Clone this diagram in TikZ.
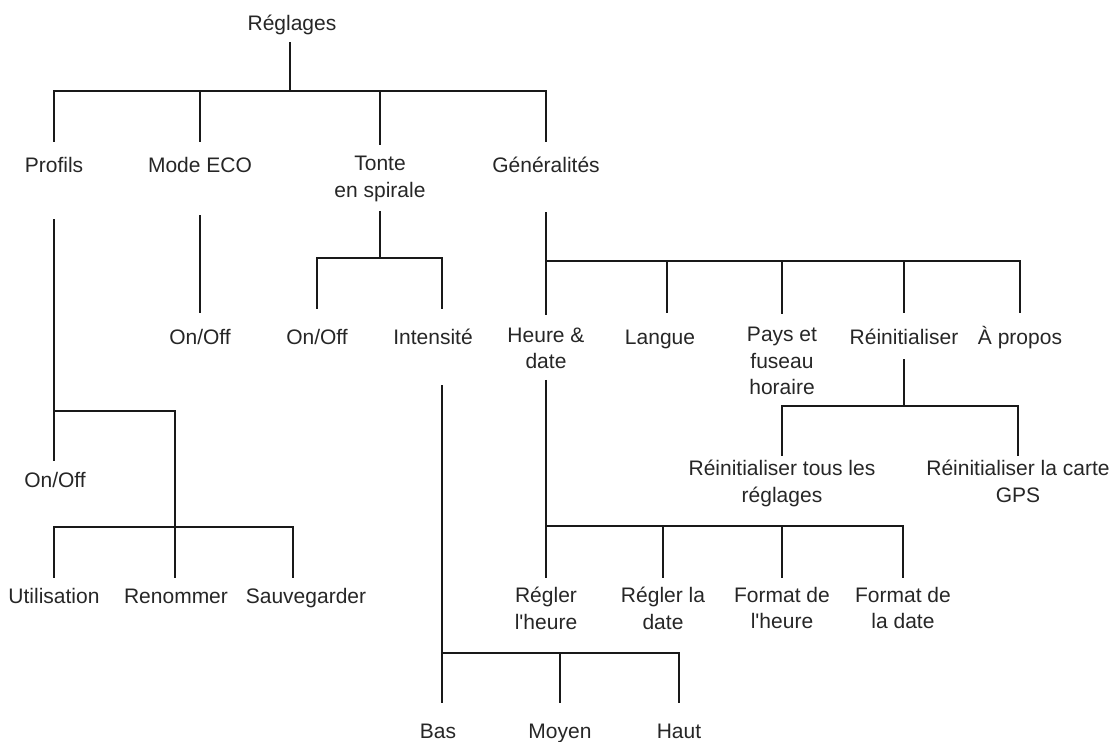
\documentclass[tikz,border=0pt]{standalone}
\usepackage{fontspec}
\setmainfont{Liberation Sans}[Ligatures=TeXOff]
\begin{document}
\begin{tikzpicture}[x=0.5pt, y=-0.5pt,
  every node/.style={font=\fontsize{10.5}{13.25}\selectfont, text=black!85, inner sep=0pt, outer sep=0pt, align=center,
    execute at begin node=\strut, execute at end node=\strut},
  link/.style={line width=1.35pt, black!90}]
\useasboundingbox (0,0) rectangle (1113,742);
% top level
\node (reglages) at (292,25) {Réglages};
\node (profils) at (54,167) {Profils};
\node (modeeco) at (200,167) {Mode ECO};
\node (tonte) at (380,181) {Tonte\\en spirale};
\node (general) at (546,167) {Généralités};
% second level
\node (eco-onoff) at (200,339) {On/Off};
\node (tonte-onoff) at (317,339) {On/Off};
\node (intensite) at (433,339) {Intensité};
\node (heure) at (546,352) {Heure \&\\date};
\node (langue) at (660,339) {Langue};
\node (pays) at (782,365) {Pays et\\fuseau\\horaire};
\node (reinit) at (904,339) {Réinitialiser};
\node (apropos) at (1020,339) {À propos};
% lower levels
\node (reinit-tous) at (782,485) {Réinitialiser tous les\\réglages};
\node (reinit-gps) at (1018,485) {Réinitialiser la carte\\GPS};
\node (prof-onoff) at (55,482) {On/Off};
\node (utilisation) at (54,598) {Utilisation};
\node (renommer) at (176,598) {Renommer};
\node (sauvegarder) at (306,598) {Sauvegarder};
\node (regler-heure) at (546,612) {Régler\\l'heure};
\node (regler-date) at (663,612) {Régler la\\date};
\node (format-heure) at (782,612) {Format de\\l'heure};
\node (format-date) at (903,612) {Format de\\la date};
\node (bas) at (438,733) {Bas};
\node (moyen) at (560,733) {Moyen};
\node (haut) at (679,733) {Haut};
% bus points
\coordinate (b-reg) at (290,91);
\coordinate (b-tonte) at (380,258);
\coordinate (b-int) at (442,653);
\coordinate (b-gen) at (546,261);
\coordinate (b-reinit) at (904,406);
\coordinate (b-prof) at (54,411);
\coordinate (b-sub) at (175,527);
\coordinate (b-heure) at (546,526);
% connectors
\draw[link, shorten <=1.9pt] (reglages.south -| b-reg) -- (b-reg);
\foreach \c in {profils, modeeco, tonte, general}
  \draw[link, shorten >=6pt] (b-reg) -| (\c);
\draw[link, shorten <=17.4pt, shorten >=6.4pt] (modeeco) -- (eco-onoff);
\draw[link, shorten <=2.75pt] (tonte) -- (b-tonte);
\draw[link, shorten >=8.4pt] (b-tonte) -| (tonte-onoff);
\draw[link, shorten >=8.4pt] (b-tonte) -| (intensite.north -| b-int);
\draw[link, shorten <=16.4pt, shorten >=8.4pt] (intensite.south -| b-int) -- (bas.north -| b-int);
\foreach \c in {moyen, haut}
  \draw[link, shorten >=8.4pt] (b-int) -| (\c);
\draw[link, shorten <=15.9pt, shorten >=6.4pt] (general) -- (heure);
\draw[link, shorten >=6.4pt] (b-gen) -| ([xshift=3.5pt]langue.north);
\foreach \c in {pays, reinit, apropos}
  \draw[link, shorten >=6.4pt] (b-gen) -| (\c);
\draw[link, shorten <=3.4pt] (reinit) -- (b-reinit);
\foreach \c in {reinit-tous, reinit-gps}
  \draw[link, shorten >=2pt] (b-reinit) -| (\c);
\draw[link, shorten <=19.4pt, shorten >=3.9pt] (profils) -- (prof-onoff.north -| profils);
\draw[link] (b-prof) -| (b-sub);
\draw[link, shorten >=3.4pt] (b-sub) -| (utilisation);
\draw[link, shorten >=3.4pt] (b-sub) -- (renommer.north -| b-sub);
\draw[link, shorten >=3.4pt] (b-sub) -| ([xshift=-6.5pt]sauvegarder.north);
\draw[link, shorten <=1.75pt, shorten >=4.75pt] (heure) -- (regler-heure);
\foreach \c in {regler-date, format-heure, format-date}
  \draw[link, shorten >=4.75pt] (b-heure) -| (\c);
\end{tikzpicture}
\end{document}
